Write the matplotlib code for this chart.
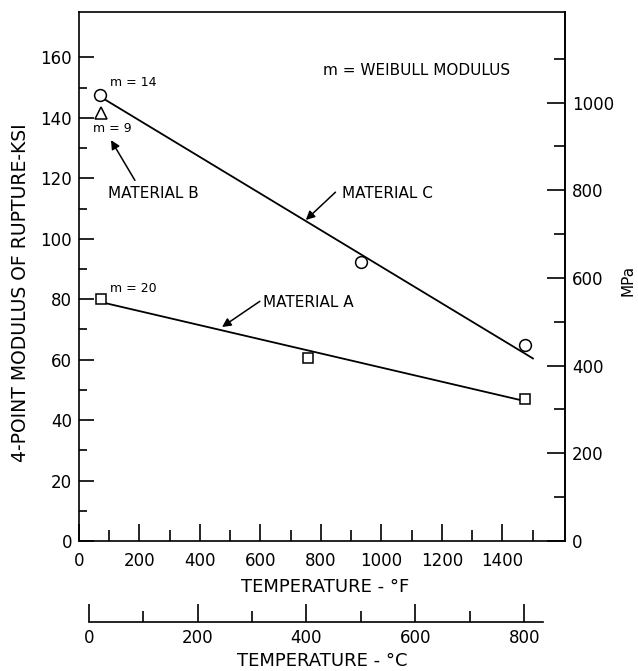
import numpy as np
from matplotlib import pyplot as plt

# temperatures in deg F, strength in ksi
temp_c_pts = [70, 934, 1474]
mor_c_pts = [147.4, 92.3, 64.8]
temp_a_pts = [72, 757, 1474]
mor_a_pts = [79.9, 60.7, 46.9]
temp_b_pts = [72]
mor_b_pts = [141.6]

# fitted lines drawn in the figure
fit_c_x = [70, 1501]
fit_c_y = [147.0, 60.4]
fit_a_x = [70, 1474]
fit_a_y = [79.1, 46.3]

KSI_TO_MPA = 6.895


def f2c(f):
    return (np.asarray(f) - 32.0) * 5.0 / 9.0

def c2f(c):
    return np.asarray(c) * 9.0 / 5.0 + 32.0

def ksi2mpa(k):
    return np.asarray(k) * KSI_TO_MPA

def mpa2ksi(m):
    return np.asarray(m) / KSI_TO_MPA


plt.rcParams['font.family'] = 'DejaVu Sans'
fig = plt.figure(figsize=(6.38, 6.71), dpi=100)
ax = fig.add_axes([0.1238, 0.1937, 0.7618, 0.7884])

lw = 1.3
ax.plot(fit_c_x, fit_c_y, color='k', lw=lw, zorder=2)
ax.plot(fit_a_x, fit_a_y, color='k', lw=lw, zorder=2)
ax.plot(temp_c_pts, mor_c_pts, 'o', ms=8.5, mfc='white', mec='k', mew=1.1, zorder=3)
ax.plot(temp_a_pts, mor_a_pts, 's', ms=7.5, mfc='white', mec='k', mew=1.1, zorder=3)
ax.plot(temp_b_pts, mor_b_pts, '^', ms=8, mfc='white', mec='k', mew=1.1, zorder=3)

ax.set_xlim(0, 1607)
ax.set_ylim(0, 175)
ax.set_xticks(range(0, 1401, 200))
ax.set_xticks(range(100, 1501, 100), minor=True)
ax.set_yticks(range(0, 161, 20))
ax.set_yticks(range(10, 151, 20), minor=True)
ax.tick_params(which='both', direction='in', width=1.2, labelsize=12)
ax.tick_params(axis='y', which='major', length=11, pad=5)
ax.tick_params(axis='y', which='minor', length=6)
ax.tick_params(axis='x', which='major', length=12, pad=8)
ax.tick_params(axis='x', which='minor', length=8)
for s in ax.spines.values():
    s.set_linewidth(1.2)

ax.set_xlabel('TEMPERATURE - °F', fontsize=13)
ax.xaxis.set_label_coords(0.506, -0.087)
ax.xaxis.label.set_va('center')
ax.set_ylabel('4-POINT MODULUS OF RUPTURE-KSI', fontsize=13.5)
ax.yaxis.set_label_coords(-0.121, 0.469)
ax.yaxis.label.set_va('center')

# right axis in MPa
ax2 = ax.secondary_yaxis('right', functions=(ksi2mpa, mpa2ksi))
ax2.set_yticks(range(0, 1001, 200))
ax2.set_yticks(range(100, 1101, 200), minor=True)
ax2.tick_params(which='both', direction='in', width=1.2, labelsize=12)
ax2.tick_params(which='major', length=13, pad=5)
ax2.tick_params(which='minor', length=8)
ax2.spines['right'].set_linewidth(1.2)
fig.text(628 / 638, 1 - 280 / 671, 'MPa', fontsize=11, rotation=90,
         ha='center', va='center')

# lower axis in deg C
ax3 = ax.secondary_xaxis(-0.1526, functions=(f2c, c2f))
ax3.set_xticks(range(0, 801, 200))
ax3.set_xticks(range(100, 701, 200), minor=True)
ax3.tick_params(which='both', direction='in', width=1.2, labelsize=12)
ax3.tick_params(which='major', length=13, pad=5)
ax3.tick_params(which='minor', length=8)
ax3.spines['bottom'].set_linewidth(1.2)
ax3.spines['bottom'].set_bounds(0, 835)
ax3.set_xlabel('TEMPERATURE - °C', fontsize=13)

# annotations
ax.text(102, 151.7, 'm = 14', fontsize=9, va='center', ha='left')
ax.text(46, 136.5, 'm = 9', fontsize=9, va='center', ha='left')
ax.text(102, 83.6, 'm = 20', fontsize=9, va='center', ha='left')
ax.text(807, 155.7, 'm = WEIBULL MODULUS', fontsize=11, va='center', ha='left')
ax.text(96, 115, 'MATERIAL B', fontsize=11, va='center', ha='left')
ax.text(868, 115, 'MATERIAL C', fontsize=11, va='center', ha='left')
ax.text(608, 79, 'MATERIAL A', fontsize=11, va='center', ha='left')

arrow = dict(arrowstyle='-|>', color='k', lw=1.1, mutation_scale=13, shrinkA=0, shrinkB=0)
ax.annotate('', xy=(106, 132.6), xytext=(185, 119.3), arrowprops=arrow)
ax.annotate('', xy=(750, 106.2), xytext=(848, 115.4), arrowprops=arrow)
ax.annotate('', xy=(473, 70.8), xytext=(598, 79.3), arrowprops=arrow)

fig.savefig('out.png', dpi=100)
